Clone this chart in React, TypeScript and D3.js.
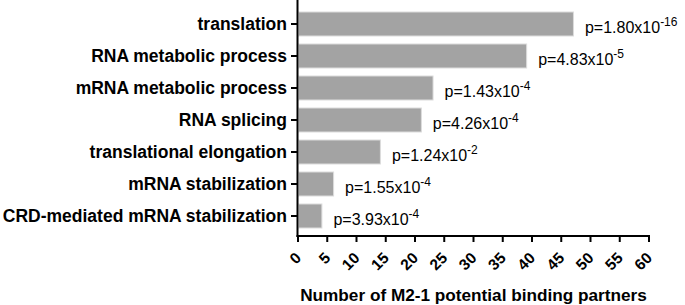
import React from "react";
import * as d3 from "d3";

const categories = [
  "translation",
  "RNA metabolic process",
  "mRNA metabolic process",
  "RNA splicing",
  "translational elongation",
  "mRNA stabilization",
  "CRD-mediated mRNA stabilization",
];
const values = [47, 39, 23, 21, 14, 6, 4];
const pMantissa = ["1.80", "4.83", "1.43", "4.26", "1.24", "1.55", "3.93"];
const pExponent = ["-16", "-5", "-4", "-4", "-2", "-4", "-4"];
const xTickValues = [0, 5, 10, 15, 20, 25, 30, 35, 40, 45, 50, 55, 60];
const xTitle = "Number of M2-1 potential binding partners";

const W = 685;
const H = 305;
const FONT = "'Liberation Sans', Arial, Helvetica, sans-serif";

export default function App() {
  const x = d3.scaleLinear().domain([0, 60]).range([298, 649]);
  const y = d3
    .scaleBand<string>()
    .domain(categories)
    .range([8, 232])
    .paddingInner(0.25)
    .paddingOuter(0.125);
  const axisY = 236;
  const axisX = 297.5;

  return (
    <svg
      width={W}
      height={H}
      style={{ position: "absolute", left: 0, top: 0, background: "#fff" }}
      fontFamily={FONT}
    >
      <rect x={0} y={0} width={W} height={H} fill="#fff" />
      {categories.map((c, i) => (
        <rect
          key={c}
          x={x(0) + 0.5}
          y={y(c)!}
          width={x(values[i]) - x(0)}
          height={y.bandwidth()}
          fill="#a3a3a3"
          stroke="#dcdcdc"
          strokeWidth={1}
        />
      ))}
      <line x1={axisX} x2={axisX} y1={0} y2={axisY + 1} stroke="#000" strokeWidth={2} />
      {categories.map((c) => {
        const cy = y(c)! + y.bandwidth() / 2;
        return (
          <g key={"yl" + c}>
            <line x1={291} x2={axisX} y1={cy} y2={cy} stroke="#000" strokeWidth={2} />
            <text
              x={287}
              y={cy}
              dy="0.36em"
              textAnchor="end"
              fontWeight="bold"
              fontSize={17.5}
              fill="#000"
            >
              {c}
            </text>
          </g>
        );
      })}
      {categories.map((c, i) => {
        const cy = y(c)! + y.bandwidth() / 2;
        return (
          <text key={"p" + c} x={x(values[i]) + 12} y={cy + 9} fontSize={16} fill="#000">
            {"p=" + pMantissa[i] + "x10"}
            <tspan dy={-7} fontSize={12}>
              {pExponent[i]}
            </tspan>
          </text>
        );
      })}
      <line x1={axisX - 1} x2={x(60) + 1} y1={axisY} y2={axisY} stroke="#000" strokeWidth={2} />
      {xTickValues.map((t) => (
        <g key={"xt" + t}>
          <line x1={x(t)} x2={x(t)} y1={axisY} y2={axisY + 6} stroke="#000" strokeWidth={2} />
          <text
            transform={`translate(${x(t) + 4},${259}) rotate(-45)`}
            textAnchor="end"
            fontWeight="bold"
            fontSize={15.5}
            fill="#000"
          >
            {t}
          </text>
        </g>
      ))}
      <text
        x={(x(0) + x(60)) / 2}
        y={300.5}
        textAnchor="middle"
        fontWeight="bold"
        fontSize={17.2}
        fill="#000"
      >
        {xTitle}
      </text>
    </svg>
  );
}
